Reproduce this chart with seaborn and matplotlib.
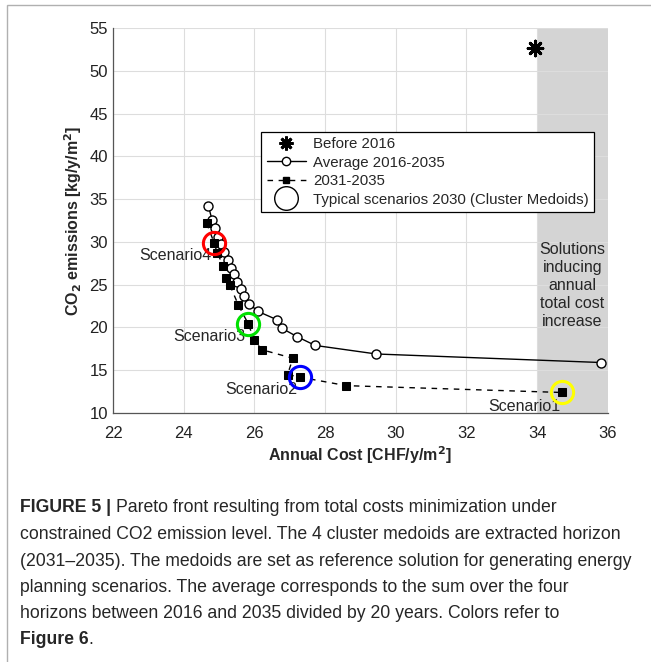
import numpy as np
import pandas as pd
import matplotlib
matplotlib.use('Agg')
import matplotlib.pyplot as plt
import seaborn as sns
from matplotlib.lines import Line2D
from matplotlib.patches import Rectangle

# values
avg_cost = [24.70, 24.70, 24.80, 24.89, 24.97, 25.05, 25.15, 25.24, 25.33, 25.43, 25.52,
            25.62, 25.72, 25.85, 26.09, 26.64, 26.78, 27.22, 27.72, 29.45, 35.82]
avg_co2 = [34.7, 33.7, 32.6, 31.6, 30.6, 29.7, 28.8, 27.9, 27.0, 26.2, 25.3,
           24.5, 23.7, 22.8, 21.9, 20.9, 19.9, 18.9, 17.9, 16.9, 15.9]

h35_cost = [24.65, 24.86, 24.95, 25.12, 25.20, 25.30, 25.55, 25.83, 26.00, 26.21,
            27.09, 26.94, 27.28, 28.60, 34.71]
h35_co2 = [32.2, 29.9, 28.7, 27.2, 25.8, 25.0, 22.6, 20.4, 18.5, 17.4,
           16.4, 14.5, 14.2, 13.2, 12.4]

before_cost = [33.93]
before_co2 = [52.7]

medoid_names = ['Scenario1', 'Scenario2', 'Scenario3', 'Scenario4']
medoid_cost = [34.71, 27.28, 25.83, 24.86]
medoid_co2 = [12.4, 14.2, 20.4, 29.9]
medoid_colors = ['#ffff00', '#0000ff', '#00e000', '#ff0000']

caption_lines = [
    'constrained CO2 emission level. The 4 cluster medoids are extracted horizon',
    '(2031\u20132035). The medoids are set as reference solution for generating energy',
    'planning scenarios. The average corresponds to the sum over the four',
    'horizons between 2016 and 2035 divided by 20 years. Colors refer to',
]

sns.set_style('white')
plt.rcParams['font.family'] = ['Liberation Sans', 'DejaVu Sans']

fig = plt.figure(figsize=(6.51, 6.62), dpi=100)
ax = fig.add_axes([0.1736, 0.3761, 0.760, 0.5816])

ax.axvspan(34, 36, color='#d4d4d4', zorder=0, lw=0)

avg = pd.DataFrame({'cost': avg_cost, 'co2': avg_co2})
h35 = pd.DataFrame({'cost': h35_cost, 'co2': h35_co2})

sns.lineplot(data=avg, x='cost', y='co2', sort=False, ax=ax, color='black', lw=1,
             marker='o', markersize=6.5, markerfacecolor='white', markeredgecolor='black',
             markeredgewidth=1, zorder=3)
sns.lineplot(data=h35, x='cost', y='co2', sort=False, ax=ax, color='black', lw=1,
             marker='s', markersize=5.5, markerfacecolor='black', markeredgecolor='black',
             zorder=4, dashes=False, linestyle=(0, (4, 4)))
sns.scatterplot(x=before_cost, y=before_co2, ax=ax, marker=(8, 2, 0), s=110,
                color='black', linewidth=2.2, zorder=5)

for name, cx, cy, col in zip(medoid_names, medoid_cost, medoid_co2, medoid_colors):
    ax.plot(cx, cy, marker='o', markersize=16, markerfacecolor='none',
            markeredgecolor=col, markeredgewidth=2.2, zorder=6)

ax.text(34.66, 10.8, 'Scenario1', ha='right', va='center', fontsize=11.5)
ax.text(27.22, 12.7, 'Scenario2', ha='right', va='center', fontsize=11.5)
ax.text(25.74, 18.9, 'Scenario3', ha='right', va='center', fontsize=11.5)
ax.text(24.80, 28.4, 'Scenario4', ha='right', va='center', fontsize=11.5)
ax.text(35.0, 24.9, 'Solutions\ninducing\nannual\ntotal cost\nincrease', ha='center',
        va='center', fontsize=11.5, linespacing=1.25)

ax.set_xlim(22, 36)
ax.set_ylim(10, 55)
ax.set_xticks(np.arange(22, 37, 2))
ax.set_yticks(np.arange(10, 56, 5))
ax.grid(True, color='#dddddd', lw=0.8)
ax.set_axisbelow(True)
ax.tick_params(direction='in', length=4, labelsize=12, colors='#222222', width=0.8)
ax.tick_params(axis='x', pad=9)
for s in ['top', 'right']:
    ax.spines[s].set_visible(False)
for s in ['left', 'bottom']:
    ax.spines[s].set_color('#555555')
    ax.spines[s].set_linewidth(0.9)

ax.set_xlabel('Annual Cost [CHF/y/m$^\\mathbf{2}$]', fontsize=11.5, fontweight='bold', labelpad=3)
ax.set_ylabel('CO$_\\mathbf{2}$ emissions [kg/y/m$^\\mathbf{2}$]', fontsize=11.5,
              fontweight='bold', labelpad=4)

handles = [
    Line2D([], [], ls='none', marker=(8, 2, 0), markersize=10, color='black', markeredgewidth=2),
    Line2D([], [], color='black', lw=1, marker='o', markersize=6, markerfacecolor='white'),
    Line2D([], [], color='black', lw=1, ls=(0, (4, 4)), marker='s', markersize=5),
    Line2D([], [], ls='none', marker='o', markersize=17, markerfacecolor='white',
           markeredgecolor='black', markeredgewidth=1),
]
labels = ['Before 2016', 'Average 2016-2035', '2031-2035',
          'Typical scenarios 2030 (Cluster Medoids)']
leg = ax.legend(handles, labels, loc='upper left', bbox_to_anchor=(0.30, 0.73),
                fontsize=10.8, frameon=True, fancybox=False, edgecolor='black',
                framealpha=1, borderpad=0.35, labelspacing=0.3, handlelength=2.6,
                handletextpad=0.5, borderaxespad=0)
leg.get_frame().set_linewidth(0.9)
leg.set_zorder(10)

# page frame and caption
fig.patches.append(Rectangle((7 / 651, -0.1), 1.2, (657 / 662) + 0.1, transform=fig.transFigure,
                             fill=False, edgecolor='#b0b0b0', lw=1))
cap_fs = 12.7
renderer = fig.canvas.get_renderer()
t0 = fig.text(20 / 651, 1 - 508 / 662, 'FIGURE 5 | ', fontsize=cap_fs, fontweight='bold',
              va='center')
w0 = t0.get_window_extent(renderer).width
fig.text((20 + w0) / 651, 1 - 508 / 662,
         'Pareto front resulting from total costs minimization under',
         fontsize=cap_fs, va='center')
for i, line in enumerate(caption_lines):
    fig.text(20 / 651, 1 - (534.5 + 26.5 * i) / 662, line, fontsize=cap_fs, va='center')
t1 = fig.text(20 / 651, 1 - 640 / 662, 'Figure 6', fontsize=cap_fs, fontweight='bold',
              va='center')
w1 = t1.get_window_extent(renderer).width
fig.text((20 + w1) / 651, 1 - 640 / 662, '.', fontsize=cap_fs, va='center')

fig.savefig('out.png', dpi=100)
